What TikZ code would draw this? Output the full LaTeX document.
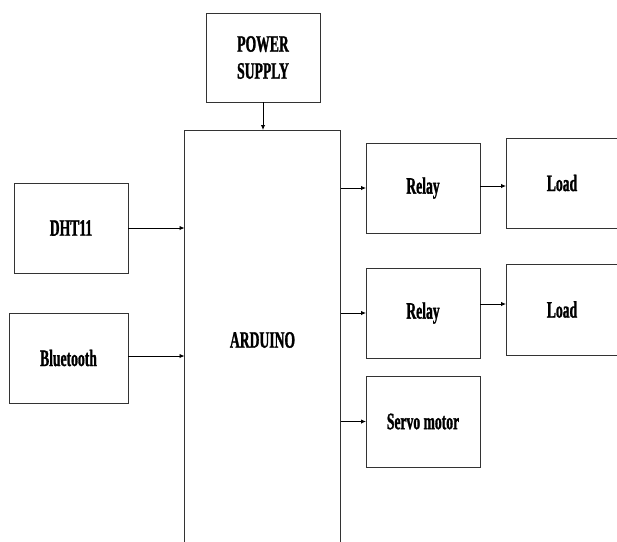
\documentclass[tikz,border=0pt]{standalone}
\usepackage{fontspec}
\setmainfont{Liberation Serif}
\newfontfamily\condfont[FakeStretch=0.58,FakeBold=1.2]{Liberation Serif}
\usetikzlibrary{arrows.meta}
\begin{document}
\begin{tikzpicture}[x=1pt,y=-1pt,
  box/.style={draw=black!80, line width=0.9pt, rectangle, inner sep=0pt, outer sep=0pt,
    font=\condfont\bfseries\fontsize{23.5}{25}\selectfont, align=center},
  arr/.style={draw=black, line width=0.9pt, -{Latex[length=5pt,width=4.5pt]}}]
\useasboundingbox (0,0) rectangle (617,541);
\node[box, minimum width=114pt, minimum height=89pt] (ps) at (263,57.5) {POWER\\[2pt]SUPPLY};
\node[box, minimum width=156pt, minimum height=420pt] (ard) at (262.5,340) {ARDUINO};
\node[box, minimum width=114pt, minimum height=90pt] (dht) at (71,228) {DHT11};
\node[box, minimum width=119pt, minimum height=90pt] (bt) at (68.5,358) {Bluetooth};
\node[box, minimum width=114pt, minimum height=90pt] (r1) at (423,188) {Relay};
\node[box, minimum width=114pt, minimum height=90pt] (r2) at (423,313) {Relay};
\node[box, minimum width=114pt, minimum height=91pt] (sv) at (423,421.5) {Servo motor};
\node[box, minimum width=124pt, minimum height=90pt] (l1) at (568,183) {\hspace*{-12pt}Load};
\node[box, minimum width=124pt, minimum height=91pt] (l2) at (568,309.5) {\hspace*{-12pt}Load};
\draw[arr] (ps.south) -- (ps.south |- ard.north);
\draw[arr] (dht.east) -- (dht.east -| ard.west);
\draw[arr] ([yshift=2pt]bt.east) -- ([yshift=2pt]bt.east -| ard.west);
\draw[arr] (r1.west -| ard.east) -- (r1.west);
\draw[arr] (r2.west -| ard.east) -- (r2.west);
\draw[arr] (sv.west -| ard.east) -- (sv.west);
\draw[arr] ([yshift=2pt]r1.east) -- ([yshift=2pt]r1.east -| l1.west);
\draw[arr] ([yshift=9pt]r2.east) -- ([yshift=9pt]r2.east -| l2.west);
\end{tikzpicture}
\end{document}
